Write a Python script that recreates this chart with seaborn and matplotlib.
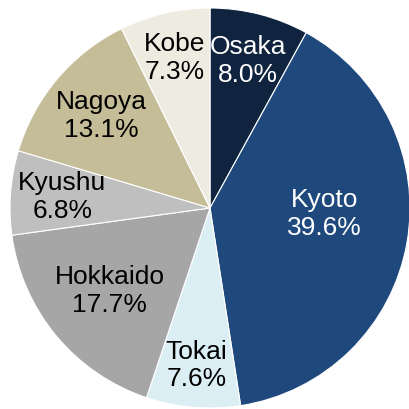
import numpy as np
import matplotlib
matplotlib.use('Agg')
import matplotlib.pyplot as plt
import seaborn as sns

# data
regions = ['Osaka', 'Kyoto', 'Tokai', 'Hokkaido', 'Kyushu', 'Nagoya', 'Kobe']
shares = [8.0, 39.6, 7.6, 17.7, 6.8, 13.1, 7.3]
colors = ['#10243f', '#1f497d', '#dbeef4', '#a6a6a6', '#bfbfbf', '#c4bd97', '#eeece1']
text_colors = ['white', 'white', 'black', 'black', 'black', 'black', 'black']
label_radius = [0.76, 0.58, 0.79, 0.65, 0.74, 0.71, 0.77]

sns.set_theme(style='white')
plt.rcParams['font.family'] = ['Liberation Sans', 'DejaVu Sans']

fig = plt.figure(figsize=(4.09, 4.09), dpi=100)
ax = fig.add_axes([0, 0, 1, 1])

wedges, _ = ax.pie(shares, colors=colors, startangle=90, counterclock=False,
                   wedgeprops=dict(edgecolor='white', linewidth=0.8))

# place labels along each wedge's mid angle
for w, name, val, r, tc in zip(wedges, regions, shares, label_radius, text_colors):
    ang = np.deg2rad((w.theta1 + w.theta2) / 2)
    x, y = r * np.cos(ang), r * np.sin(ang)
    if name == 'Kyoto':
        y += 0.07
    ax.text(x, y, f'{name}\n{val:.1f}%', ha='center', va='center',
            fontsize=19, color=tc, linespacing=1.2)

ax.set_xlim(-1.05, 0.995)
ax.set_ylim(-1.005, 1.04)
ax.set_aspect('equal')
ax.axis('off')

fig.savefig('out.png', dpi=100)
